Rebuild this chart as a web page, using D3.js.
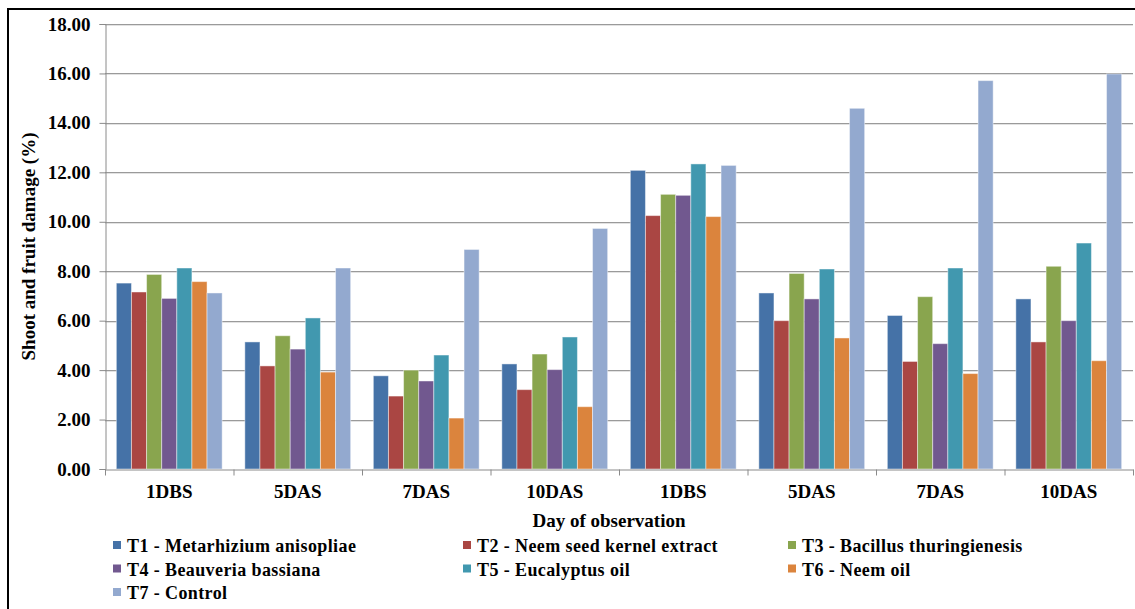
<!DOCTYPE html>
<html>
<head>
<meta charset="utf-8">
<script src="https://cdn.jsdelivr.net/npm/d3@7"></script>
</head>
<body style="margin:0;background:#fff">
<svg id="chart" width="1135" height="609" style="display:block"></svg>
<script>
// Observation days (two seasons of four observations each)
const categories = ["1DBS", "5DAS", "7DAS", "10DAS", "1DBS", "5DAS", "7DAS", "10DAS"];

// Treatments
const seriesNames = [
  "T1 - Metarhizium anisopliae",
  "T2 - Neem seed kernel extract",
  "T3 - Bacillus thuringienesis",
  "T4 - Beauveria bassiana",
  "T5 - Eucalyptus oil",
  "T6 - Neem oil",
  "T7 - Control"
];

// Shoot and fruit damage (%) per treatment, one value per observation
const t1 = [7.52, 5.14, 3.77, 4.25, 12.08, 7.12, 6.21, 6.88];
const t2 = [7.16, 4.17, 2.95, 3.21, 10.25, 6.00, 4.35, 5.14];
const t3 = [7.87, 5.39, 4.00, 4.65, 11.11, 7.91, 6.97, 8.20];
const t4 = [6.90, 4.85, 3.56, 4.02, 11.07, 6.88, 5.07, 6.00];
const t5 = [8.13, 6.11, 4.61, 5.34, 12.34, 8.09, 8.13, 9.14];
const t6 = [7.58, 3.92, 2.06, 2.52, 10.21, 5.30, 3.86, 4.38];
const t7 = [7.12, 8.13, 8.88, 9.73, 12.28, 14.59, 15.71, 15.98];
const seriesValues = [t1, t2, t3, t4, t5, t6, t7];

const yTicks = [0, 2, 4, 6, 8, 10, 12, 14, 16, 18];

const colors = ["#4572A7", "#AA4643", "#89A54E", "#71588F", "#4198AF", "#DB843D", "#93A9CF"];

const FONT = "'Liberation Serif'";

const svg = d3.select("#chart");

// outer frame (right and bottom edges fall outside the page)
svg.append("rect")
  .attr("x", 8).attr("y", 9)
  .attr("width", 1140).attr("height", 620)
  .attr("fill", "none").attr("stroke", "#000").attr("stroke-width", 2);

const plot = { left: 105, right: 1133, top: 24, bottom: 469 };

const y = d3.scaleLinear().domain([0, 18]).range([plot.bottom, plot.top]);

const x = d3.scaleBand()
  .domain(d3.range(categories.length))
  .range([plot.left, plot.right])
  .padding(0);

// bars take 7 of 8.5 bar-widths in each category (gap of 150%)
const W = x.bandwidth();
const gap = W * 1.5 / 8.5;
const xs = d3.scaleBand()
  .domain(d3.range(seriesNames.length))
  .range([gap / 2, W - gap / 2])
  .padding(0);

// gridlines
svg.append("g")
  .selectAll("line")
  .data(yTicks.filter(d => d > 0))
  .join("line")
  .attr("x1", plot.left).attr("x2", plot.right)
  .attr("y1", d => Math.round(y(d)) + 0.5).attr("y2", d => Math.round(y(d)) + 0.5)
  .attr("stroke", "#9a9a9a").attr("stroke-width", 1);

svg.append("g")
  .selectAll("line")
  .data(yTicks.filter(d => d > 0))
  .join("line")
  .attr("x1", plot.left).attr("x2", plot.right)
  .attr("y1", d => Math.round(y(d)) + 1.5).attr("y2", d => Math.round(y(d)) + 1.5)
  .attr("stroke", "#e2e2e2").attr("stroke-width", 1);

// bars
const groups = svg.append("g")
  .selectAll("g")
  .data(seriesValues)
  .join("g")
  .attr("fill", (d, i) => colors[i]);

groups.each(function(vals, si) {
  d3.select(this).selectAll("rect")
    .data(vals)
    .join("rect")
    .attr("x", (d, ci) => x(ci) + xs(si))
    .attr("width", xs.bandwidth())
    .attr("y", d => y(d))
    .attr("height", d => y(0) - y(d))
    .attr("stroke", "#ffffff")
    .attr("stroke-opacity", 0.45)
    .attr("stroke-width", 1);
});

// y axis
const yAxis = d3.axisLeft(y)
  .tickValues(yTicks)
  .tickFormat(d3.format(".2f"))
  .tickSize(6)
  .tickPadding(9);

const gy = svg.append("g")
  .attr("transform", `translate(${plot.left + 0.5},0)`)
  .call(yAxis)
  .attr("font-family", FONT)
  .attr("font-size", 19)
  .attr("font-weight", "bold");
gy.select(".domain").attr("stroke", "#8a8a8a");
gy.selectAll(".tick line").attr("stroke", "#8a8a8a");
gy.selectAll(".tick text").attr("fill", "#000");

// x axis: category boundaries as ticks, labels centred in each band
const xb = d3.scaleLinear().domain([0, categories.length]).range([plot.left, plot.right]);
const xAxis = d3.axisBottom(xb)
  .tickValues(d3.range(categories.length + 1))
  .tickFormat("")
  .tickSize(6)
  .tickSizeOuter(0);

const gx = svg.append("g")
  .attr("transform", `translate(0,${plot.bottom + 0.5})`)
  .call(xAxis);
gx.select(".domain").attr("stroke", "#8a8a8a");
gx.selectAll(".tick line").attr("stroke", "#8a8a8a");

const labelGroup = svg.append("g")
  .attr("font-family", FONT)
  .attr("font-weight", "bold")
  .attr("fill", "#000");

labelGroup.append("g")
  .selectAll("text")
  .data(categories)
  .join("text")
  .attr("x", (d, i) => x(i) + W / 2)
  .attr("y", 498)
  .attr("text-anchor", "middle")
  .attr("font-size", 19)
  .text(d => d);

// axis titles
labelGroup.append("text")
  .attr("x", 609).attr("y", 527)
  .attr("text-anchor", "middle")
  .attr("font-size", 19)
  .text("Day of observation");

labelGroup.append("text")
  .attr("transform", `translate(35,${(plot.top + plot.bottom) / 2}) rotate(-90)`)
  .attr("text-anchor", "middle")
  .attr("font-size", 19)
  .text("Shoot and fruit damage (%)");

// legend: three columns
const legendCols = [113, 463, 788];
const legendRows = [552, 575.5, 599];
const legend = labelGroup.append("g")
  .selectAll("g")
  .data(seriesNames)
  .join("g")
  .attr("transform", (d, i) => `translate(${legendCols[i % 3]},${legendRows[Math.floor(i / 3)]})`);

legend.append("rect")
  .attr("x", 0).attr("y", -11)
  .attr("width", 8).attr("height", 8)
  .attr("fill", (d, i) => colors[i]);

legend.append("text")
  .attr("x", 14).attr("y", 0)
  .attr("font-size", 18)
  .attr("letter-spacing", "0.4")
  .text(d => d);
</script>
</body>
</html>
